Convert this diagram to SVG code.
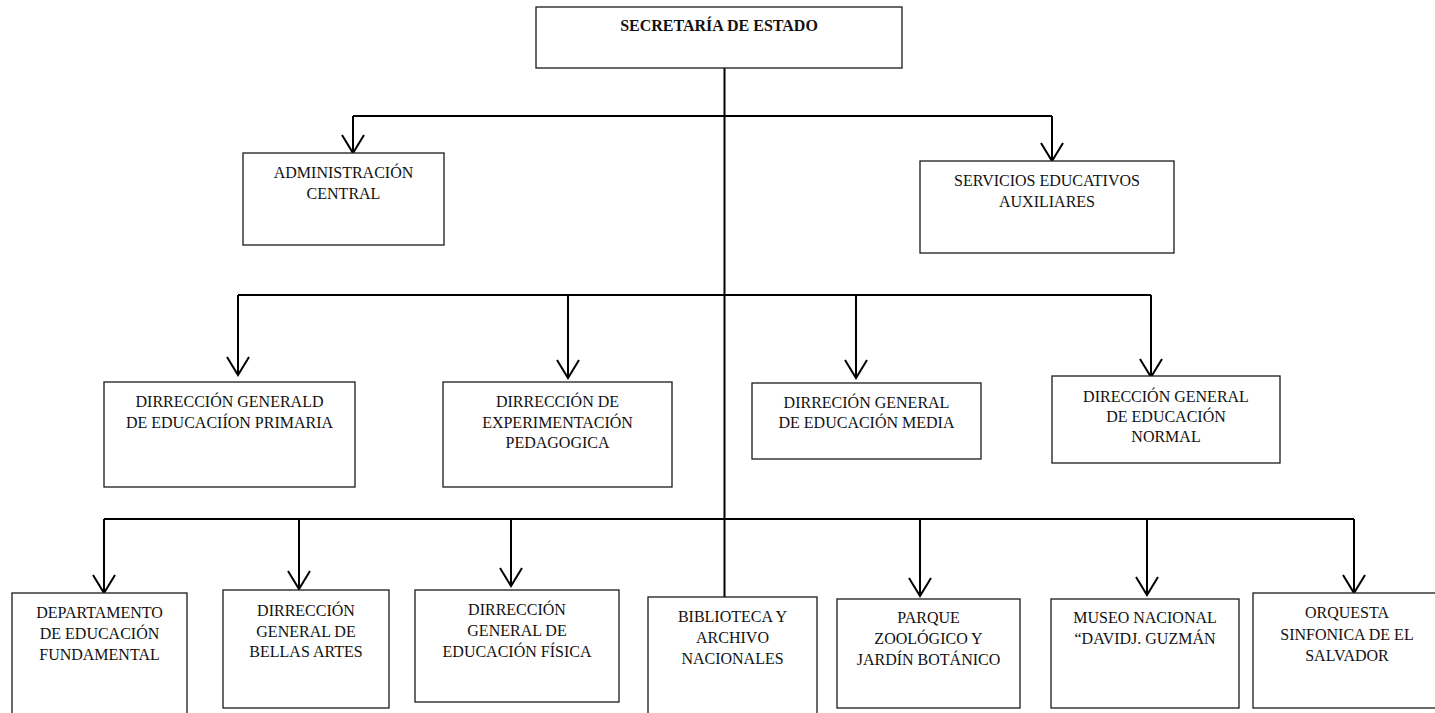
<svg xmlns="http://www.w3.org/2000/svg" width="1435" height="713" viewBox="0 0 1435 713">
<defs>
<marker id="arr" markerUnits="userSpaceOnUse" markerWidth="22" markerHeight="24" viewBox="-20 -12 22 24" refX="0" refY="0" orient="auto" overflow="visible">
<path d="M-18,-11 L0,0 L-18,11" fill="none" stroke="#000" stroke-width="2"/>
</marker>
</defs>
<style>
.box{fill:#fff;stroke:#1a1a1a;stroke-width:1.3}
.t{font-family:"Liberation Serif","Times New Roman",serif;font-size:16px;fill:#111;text-anchor:middle}
.b{font-weight:bold}
.c{fill:none;stroke:#000;stroke-width:2}
.a{marker-end:url(#arr)}
</style>
<rect width="1435" height="713" fill="#fff"/>
<g id="connectors">
<line class="c" x1="724.5" y1="68" x2="724.5" y2="597"/>
<polyline class="c" points="353,116 1052,116"/>
<line class="c a" x1="353" y1="116" x2="353" y2="153"/>
<line class="c a" x1="1052" y1="116" x2="1052" y2="161"/>
<polyline class="c" points="238,295 1151,295"/>
<line class="c a" x1="238" y1="295" x2="238" y2="375"/>
<line class="c a" x1="568" y1="295" x2="568" y2="378"/>
<line class="c a" x1="856" y1="295" x2="856" y2="378"/>
<line class="c a" x1="1151" y1="295" x2="1151" y2="377"/>
<polyline class="c" points="104,519 1354,519"/>
<line class="c a" x1="104" y1="519" x2="104" y2="593"/>
<line class="c a" x1="299" y1="519" x2="299" y2="589"/>
<line class="c a" x1="511" y1="519" x2="511" y2="586"/>
<line class="c a" x1="920" y1="519" x2="920" y2="596"/>
<line class="c a" x1="1147" y1="519" x2="1147" y2="595"/>
<line class="c a" x1="1354" y1="519" x2="1354" y2="593"/>
</g>
<g id="secretaria">
<rect class="box" x="536" y="7" width="366" height="61"/>
<text class="t b" x="719" y="31">SECRETARÍA DE ESTADO</text>
</g>
<g id="administracion">
<rect class="box" x="243" y="153" width="201" height="92"/>
<text class="t" x="343.5" y="178">ADMINISTRACIÓN</text>
<text class="t" x="343.5" y="199">CENTRAL</text>
</g>
<g id="servicios">
<rect class="box" x="920" y="161" width="254" height="92"/>
<text class="t" x="1047" y="186">SERVICIOS EDUCATIVOS</text>
<text class="t" x="1047" y="207">AUXILIARES</text>
</g>
<g id="primaria">
<rect class="box" x="104" y="382" width="251" height="105"/>
<text class="t" x="229.5" y="407">DIRRECCIÓN GENERALD</text>
<text class="t" x="229.5" y="428">DE EDUCACIÍON PRIMARIA</text>
</g>
<g id="pedagogica">
<rect class="box" x="443" y="382" width="229" height="105"/>
<text class="t" x="557.5" y="407">DIRRECCIÓN DE</text>
<text class="t" x="557.5" y="428">EXPERIMENTACIÓN</text>
<text class="t" x="557.5" y="448">PEDAGOGICA</text>
</g>
<g id="media">
<rect class="box" x="752" y="383" width="229" height="76"/>
<text class="t" x="866.5" y="408">DIRRECIÓN GENERAL</text>
<text class="t" x="866.5" y="428">DE EDUCACIÓN MEDIA</text>
</g>
<g id="normal">
<rect class="box" x="1052" y="376" width="228" height="87"/>
<text class="t" x="1166" y="402">DIRECCIÓN GENERAL</text>
<text class="t" x="1166" y="422">DE EDUCACIÓN</text>
<text class="t" x="1166" y="442">NORMAL</text>
</g>
<g id="fundamental">
<rect class="box" x="12" y="593" width="175" height="130"/>
<text class="t" x="99.5" y="618">DEPARTAMENTO</text>
<text class="t" x="99.5" y="639">DE EDUCACIÓN</text>
<text class="t" x="99.5" y="660">FUNDAMENTAL</text>
</g>
<g id="bellas-artes">
<rect class="box" x="223" y="590" width="166" height="118"/>
<text class="t" x="306" y="616">DIRRECCIÓN</text>
<text class="t" x="306" y="637">GENERAL DE</text>
<text class="t" x="306" y="657">BELLAS ARTES</text>
</g>
<g id="fisica">
<rect class="box" x="415" y="590" width="204" height="112"/>
<text class="t" x="517" y="615">DIRRECCIÓN</text>
<text class="t" x="517" y="636">GENERAL DE</text>
<text class="t" x="517" y="657">EDUCACIÓN FÍSICA</text>
</g>
<g id="biblioteca">
<rect class="box" x="648" y="597" width="169" height="130"/>
<text class="t" x="732.5" y="622">BIBLIOTECA Y</text>
<text class="t" x="732.5" y="643">ARCHIVO</text>
<text class="t" x="732.5" y="664">NACIONALES</text>
</g>
<g id="parque">
<rect class="box" x="837" y="599" width="183" height="109"/>
<text class="t" x="928.5" y="623">PARQUE</text>
<text class="t" x="928.5" y="644">ZOOLÓGICO Y</text>
<text class="t" x="928.5" y="665">JARDÍN BOTÁNICO</text>
</g>
<g id="museo">
<rect class="box" x="1051" y="599" width="188" height="109"/>
<text class="t" x="1145" y="623">MUSEO NACIONAL</text>
<text class="t" x="1145" y="644">“DAVIDJ. GUZMÁN</text>
</g>
<g id="orquesta">
<rect class="box" x="1253" y="593" width="190" height="115"/>
<text class="t" x="1347" y="618">ORQUESTA</text>
<text class="t" x="1347" y="640">SINFONICA DE EL</text>
<text class="t" x="1347" y="661">SALVADOR</text>
</g>
</svg>
